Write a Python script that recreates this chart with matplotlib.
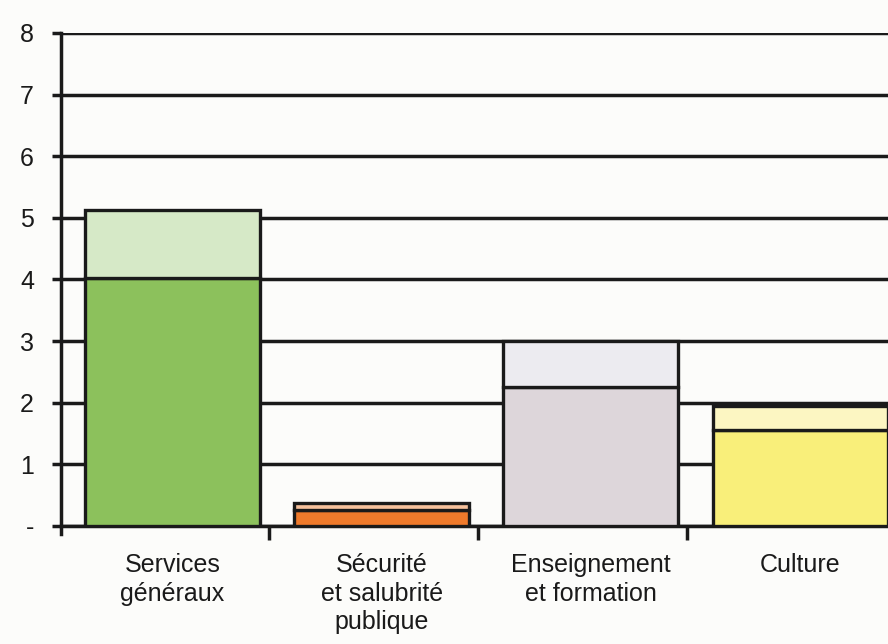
import matplotlib.pyplot as plt
import numpy as np

categories = ['Services\ngénéraux', 'Sécurité\net salubrité\npublique',
              'Enseignement\net formation', 'Culture']
lower = [4.03, 0.25, 2.25, 1.55]
total = [5.12, 0.37, 3.0, 1.95]
ytick_labels = ['-', '1', '2', '3', '4', '5', '6', '7', '8']

dark = ['#8cc15c', '#ef7a2b', '#ddd6da', '#f9ef7a']
light = ['#d6e9c7', '#f6c19c', '#ecebf0', '#fcf6c2']

plt.rcParams['font.family'] = ['Liberation Sans', 'DejaVu Sans']

fig = plt.figure(figsize=(8.88, 6.44), dpi=100, facecolor='#fcfcfa')
ax = fig.add_axes([0.0687, 0.1834, 0.9313, 0.7655])
ax.set_facecolor('#fcfcfa')

x = np.arange(len(categories))
upper = [t - l for t, l in zip(total, lower)]
w = 0.837
ax.bar(x, lower, w, color=dark, edgecolor='#1a1a1a', linewidth=2.4, zorder=3)
ax.bar(x, upper, w, bottom=lower, color=light, edgecolor='#1a1a1a', linewidth=2.4, zorder=3)

ax.set_xlim(-0.533, 3.42)
ax.set_ylim(0, 8)
ax.set_yticks(range(9))
ax.set_yticklabels(ytick_labels, fontsize=18, color='#1a1a1a')
ax.set_axisbelow(True)
ax.yaxis.grid(True, color='#1a1a1a', linewidth=2.5)
ax.tick_params(axis='y', length=6.5, width=2.5, color='#1a1a1a', pad=13)

ax.set_xticks(x)
ax.set_xticklabels(categories, fontsize=18, linespacing=1.25, color='#1a1a1a')
ax.set_xticks([0.46, 1.46, 2.46], minor=True)
ax.tick_params(axis='x', which='major', length=0, pad=19.5)
ax.tick_params(axis='x', which='minor', length=10, width=2.5, color='#1a1a1a')

for s in ['top', 'right']:
    ax.spines[s].set_visible(False)
ax.spines['left'].set_linewidth(2.5)
ax.spines['left'].set_color('#1a1a1a')
ax.spines['left'].set_bounds(-0.13, 8)
ax.spines['bottom'].set_linewidth(2.5)
ax.spines['bottom'].set_color('#1a1a1a')

fig.savefig('out.png', dpi=100, facecolor=fig.get_facecolor())
